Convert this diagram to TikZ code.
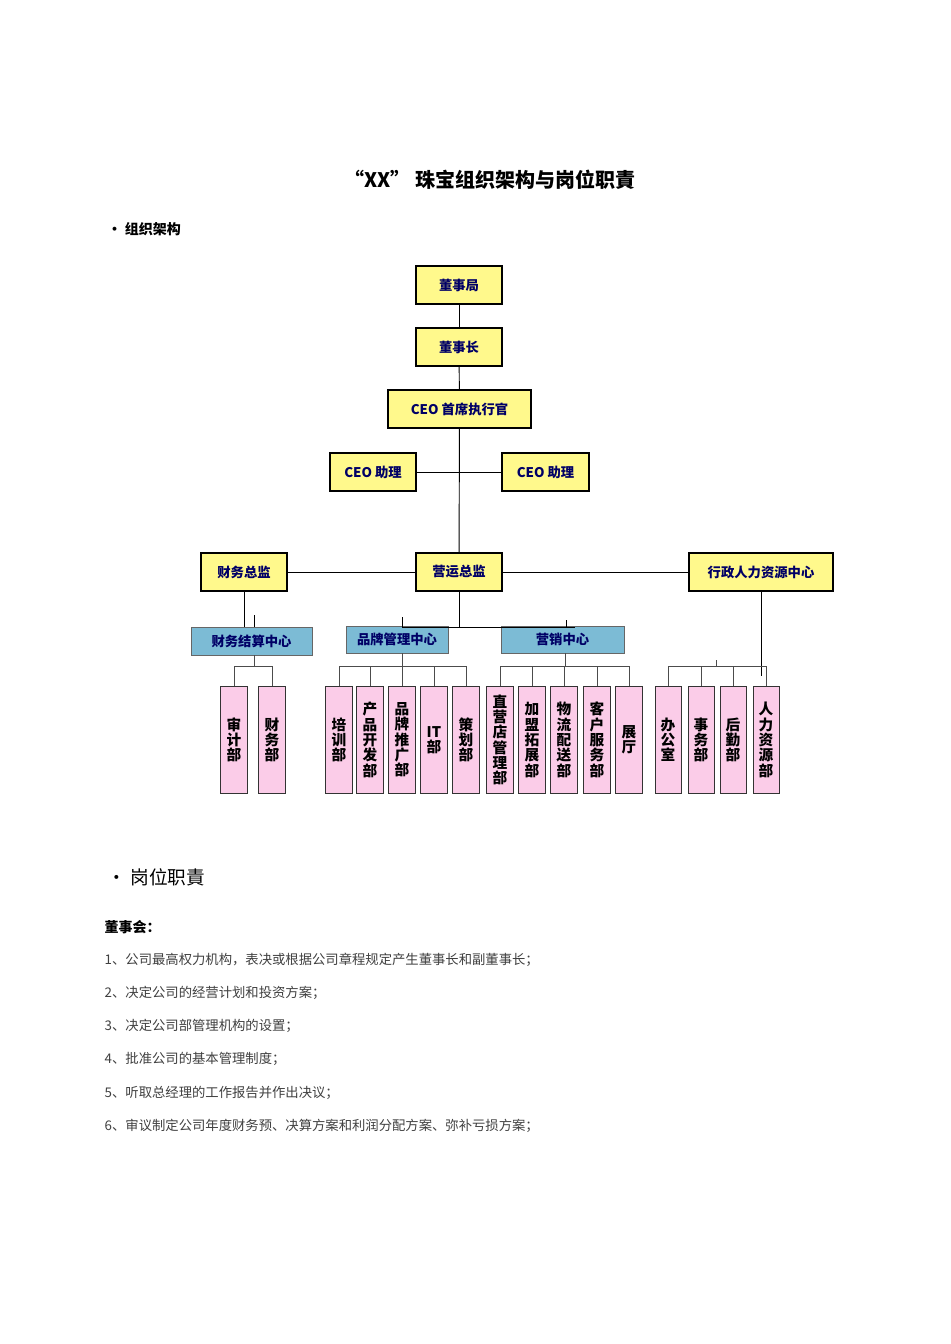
\documentclass[tikz,border=0pt]{standalone}
\usepackage{fontspec}
\newfontfamily\cjk{Noto Sans CJK SC}
\newfontfamily\cjkb{Noto Sans CJK SC Bold}
\begin{document}
\begin{tikzpicture}[x=0.75pt,y=-0.75pt,
 ybox/.style={draw=black,line width=0.8pt,fill=yellow!45!white,font=\cjk\bfseries\fontsize{10}{12}\selectfont,text=blue!40!black},
 cbox/.style={draw=black!60,line width=0.6pt,fill=cyan!45!teal!60!white,font=\cjk\bfseries\fontsize{10}{12}\selectfont,text=blue!40!black},
 pbox/.style={draw=black!80,line width=0.6pt,fill=magenta!20!white,font=\cjk\bfseries\fontsize{11}{11.5}\selectfont,align=center,anchor=north},
 ln/.style={line width=0.7pt},
 body/.style={anchor=west,font=\cjk\fontsize{10}{12}\selectfont,text=black!75}]
\useasboundingbox (0,0) rectangle (950,1344);
\fill[white] (0,0) rectangle (950,1344);
\newcommand{\yb}[6]{\node[ybox,minimum width=#3*0.75pt,minimum height=#4*0.75pt] (#1) at (#2,#5) {#6};}
\yb{dsj}{459}{86}{38}{285}{董事局}
\yb{dsz}{459}{86}{38}{347}{董事长}
\yb{ceo}{459.5}{143}{38}{409}{CEO 首席执行官}
\yb{asl}{373}{86}{38}{472}{CEO 助理}
\yb{asr}{545.5}{87}{38}{472}{CEO 助理}
\yb{cw}{244}{86}{38}{572}{财务总监}
\yb{yy}{459}{86}{38}{572}{营运总监}
\yb{hr}{761}{144}{38}{572}{行政人力资源中心}
\node[cbox,minimum width=121*0.75pt,minimum height=28*0.75pt] (c1) at (251.5,641) {财务结算中心};
\node[cbox,minimum width=102*0.75pt,minimum height=27*0.75pt] (c2) at (397,639.5) {品牌管理中心};
\node[cbox,minimum width=123*0.75pt,minimum height=27*0.75pt] (c3) at (562.5,639.5) {营销中心};
\draw[ln] (dsj) -- (dsz); \draw[ln] (dsz) -- (ceo); \draw[ln] (ceo) -- (yy);
\draw[ln] (asl.east) -- (asr.west);
\draw[ln] (cw.east) -- (yy.west); \draw[ln] (yy.east) -- (hr.west);
\draw[ln] (cw.south) -- (244,627); \draw[ln] (254,615) -- (254,627);
\draw[ln] (yy.south) -- (459,627); \draw[ln] (402,627) -- (575,627);
\draw[ln] (402,617) -- (402,627); \draw[ln] (566,620) -- (566,627);
\draw[ln] (hr.south) -- (761,676);
\newcommand{\pb}[3]{\node[pbox,minimum width=24*0.75pt,minimum height=107*0.75pt,text width=13pt] (#1) at (#2,686) {#3};}
\pb{p1}{234}{审\\计\\部}\pb{p2}{272}{财\\务\\部}
\pb{p3}{339}{培\\训\\部}\pb{p4}{370}{产\\品\\开\\发\\部}\pb{p5}{402}{品\\牌\\推\\广\\部}\pb{p6}{434}{IT\\部}\pb{p7}{466}{策\\划\\部}
\pb{p8}{500}{直\\营\\店\\管\\理\\部}\pb{p9}{532}{加\\盟\\拓\\展\\部}\pb{p10}{564}{物\\流\\配\\送\\部}\pb{p11}{597}{客\\户\\服\\务\\部}\pb{p12}{629}{展\\厅}
\pb{p13}{668}{办\\公\\室}\pb{p14}{701}{事\\务\\部}\pb{p15}{733}{后\\勤\\部}\pb{p16}{766}{人\\力\\资\\源\\部}
\draw[ln,black!70] (c1.south -| 254,0) -- (254,666);
\draw[ln,black!70] (234,666) -- (272,666);
\foreach \p in {p1,p2} \draw[ln,black!70] (\p.north) -- (\p.north |- 0,666);
\draw[ln,black!70] (c2.south -| 402,0) -- (402,666); \draw[ln,black!70] (339,666) -- (466,666);
\foreach \p in {p3,p4,p5,p6,p7} \draw[ln,black!70] (\p.north) -- (\p.north |- 0,666);
\draw[ln,black!70] (c3.south -| 565,0) -- (565,666); \draw[ln,black!70] (500,666) -- (629,666);
\foreach \p in {p8,p9,p10,p11,p12} \draw[ln,black!70] (\p.north) -- (\p.north |- 0,666);
\draw[ln,black!70] (668,666) -- (766,666); \draw[ln,black!70] (716,660) -- (716,666);
\foreach \p in {p13,p14,p15,p16} \draw[ln,black!70] (\p.north) -- (\p.north |- 0,666);
\node[font=\cjk\bfseries\fontsize{15}{18}\selectfont] (title) at (490,180) {“XX”\ 珠宝组织架构与岗位职責};
\node[anchor=west,font=\cjk\bfseries\fontsize{10.5}{12}\selectfont] (t1) at (103,229) {• 组织架构};
\node[anchor=west,font=\cjk\fontsize{14}{16}\selectfont] (t2) at (103,877) {• 岗位职責};
\node[anchor=west,font=\cjk\bfseries\fontsize{10.5}{12}\selectfont] (t3) at (100,927) {董事会：};
\node[body] (l1) at (100,960) {1、公司最高权力机构，表决或根据公司章程规定产生董事长和副董事长；};
\node[body] (l2) at (100,993) {2、决定公司的经营计划和投资方案；};
\node[body] (l3) at (100,1026) {3、决定公司部管理机构的设置；};
\node[body] (l4) at (100,1059) {4、批准公司的基本管理制度；};
\node[body] (l5) at (100,1093) {5、听取总经理的工作报告并作出决议；};
\node[body] (l6) at (100,1126) {6、审议制定公司年度财务预、决算方案和利润分配方案、弥补亏损方案；};
\end{tikzpicture}
\end{document}
